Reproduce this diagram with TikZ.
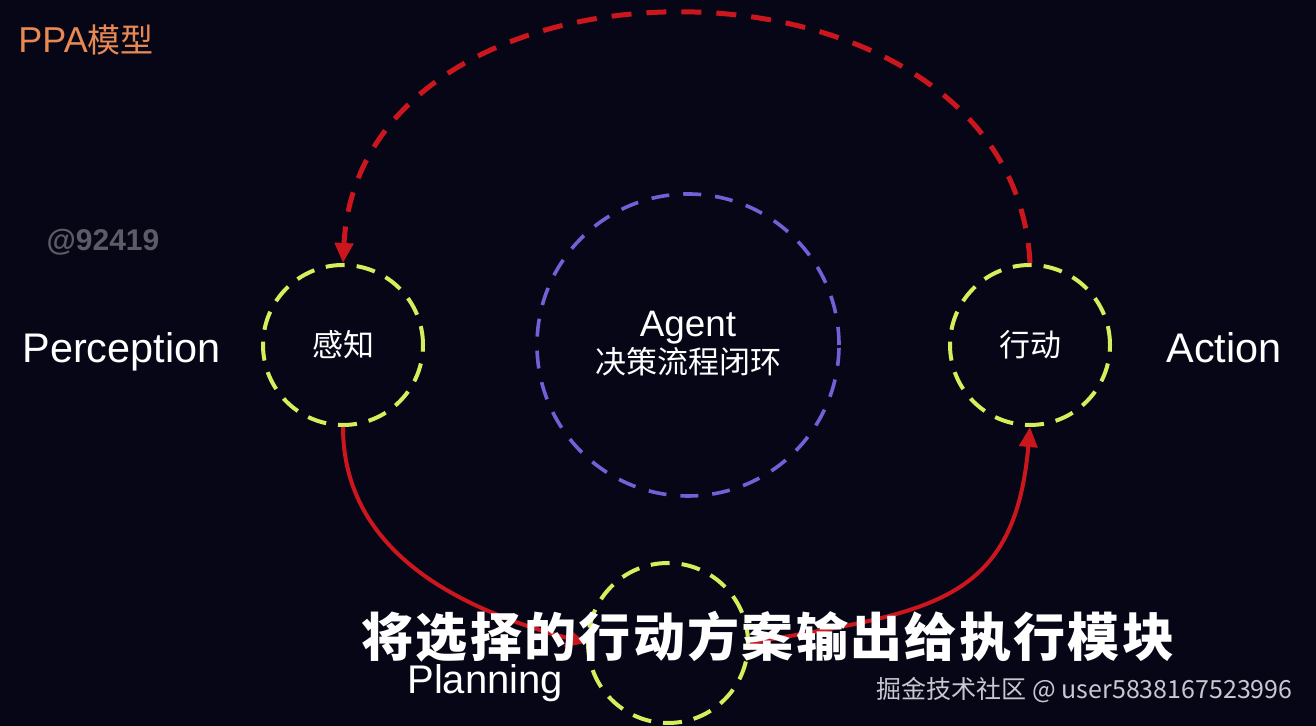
\documentclass[tikz,border=0pt]{standalone}
\usepackage{fontspec}
\setsansfont{Liberation Sans}
\newfontfamily\cjk{Noto Sans CJK SC}
\newfontfamily\cjkwide[LetterSpace=4.5]{Noto Sans CJK SC}
\usetikzlibrary{arrows.meta}
\definecolor{fond}{RGB}{6,6,22}
\definecolor{jaune}{RGB}{214,238,92}
\definecolor{violet}{RGB}{112,98,214}
\definecolor{rouge}{RGB}{204,22,30}
\definecolor{titre}{RGB}{232,136,82}
\definecolor{gris}{RGB}{92,92,104}
\definecolor{marque}{RGB}{200,200,210}
\tikzset{
  stagecircle/.style={circle, draw=jaune, line width=2pt, dash pattern=on 9.5pt off 6pt,
    minimum size=80pt, inner sep=0pt, text=white, font=\cjk\fontsize{15.5}{18}\selectfont},
  agentcircle/.style={circle, draw=violet, line width=1.8pt, dash pattern=on 9pt off 7pt,
    minimum size=151pt, inner sep=0pt},
  sidelabel/.style={anchor=base west, inner sep=0pt, text=white, font=\sffamily\fontsize{20.7}{24}\selectfont},
  loopline/.style={draw=rouge, line width=2pt, -{Triangle[length=10pt,width=9pt]}}
}
\begin{document}
\begin{tikzpicture}[x=0.5pt,y=0.5pt]
    \path[use as bounding box, fill=fond] (0,0) rectangle (1316,726);
    \node[anchor=west, inner sep=0pt, text=titre, font=\sffamily\fontsize{18}{22}\selectfont] (titre) at (18,686) {PPA{\cjk\fontsize{16.5}{20}\selectfont 模型}};
    \node[text=gris, font=\sffamily\bfseries\fontsize{15}{18}\selectfont] (pseudo) at (103,484) {@92419};
    \node[agentcircle] (agent) at (688,381) {};
    \node[anchor=base, text=white, font=\sffamily\fontsize{18.4}{22}\selectfont] (agentnom) at (688,389) {Agent};
    \node[text=white, font=\cjk\fontsize{15.5}{18}\selectfont] (agenttexte) at (688,364) {决策流程闭环};
    \node[stagecircle] (per) at (343,381) {感知};
    \node[stagecircle] (act) at (1030,381) {行动};
    \node[stagecircle] (plan) at (668,83) {};
    \node[sidelabel] (perlabel) at (22,363) {Perception};
    \node[sidelabel] (actlabel) at (1166,363) {Action};
    \node[sidelabel, font=\sffamily\fontsize{20}{24}\selectfont] (planlabel) at (407,32) {Planning};
    \draw[loopline, line width=2.5pt, dash pattern=on 10pt off 7.5pt] (act.north) to[out=93,in=87,looseness=1.24] (per.north);
    \draw[loopline] (per.south) to[out=-90,in=165] (plan.west);
    \draw[loopline] (plan.east) to[out=10,in=-95,looseness=1.3] (act.south);
    \node[text=white, font=\cjkwide\bfseries\fontsize{26}{30}\selectfont] (soustitre) at (768,89) {将选择的行动方案输出给执行模块};
    \node[anchor=east, inner sep=0pt, text=marque, font=\cjk\fontsize{12.5}{15}\selectfont] (marque) at (1293,36) {掘金技术社区 @ user5838167523996};
\end{tikzpicture}
\end{document}
